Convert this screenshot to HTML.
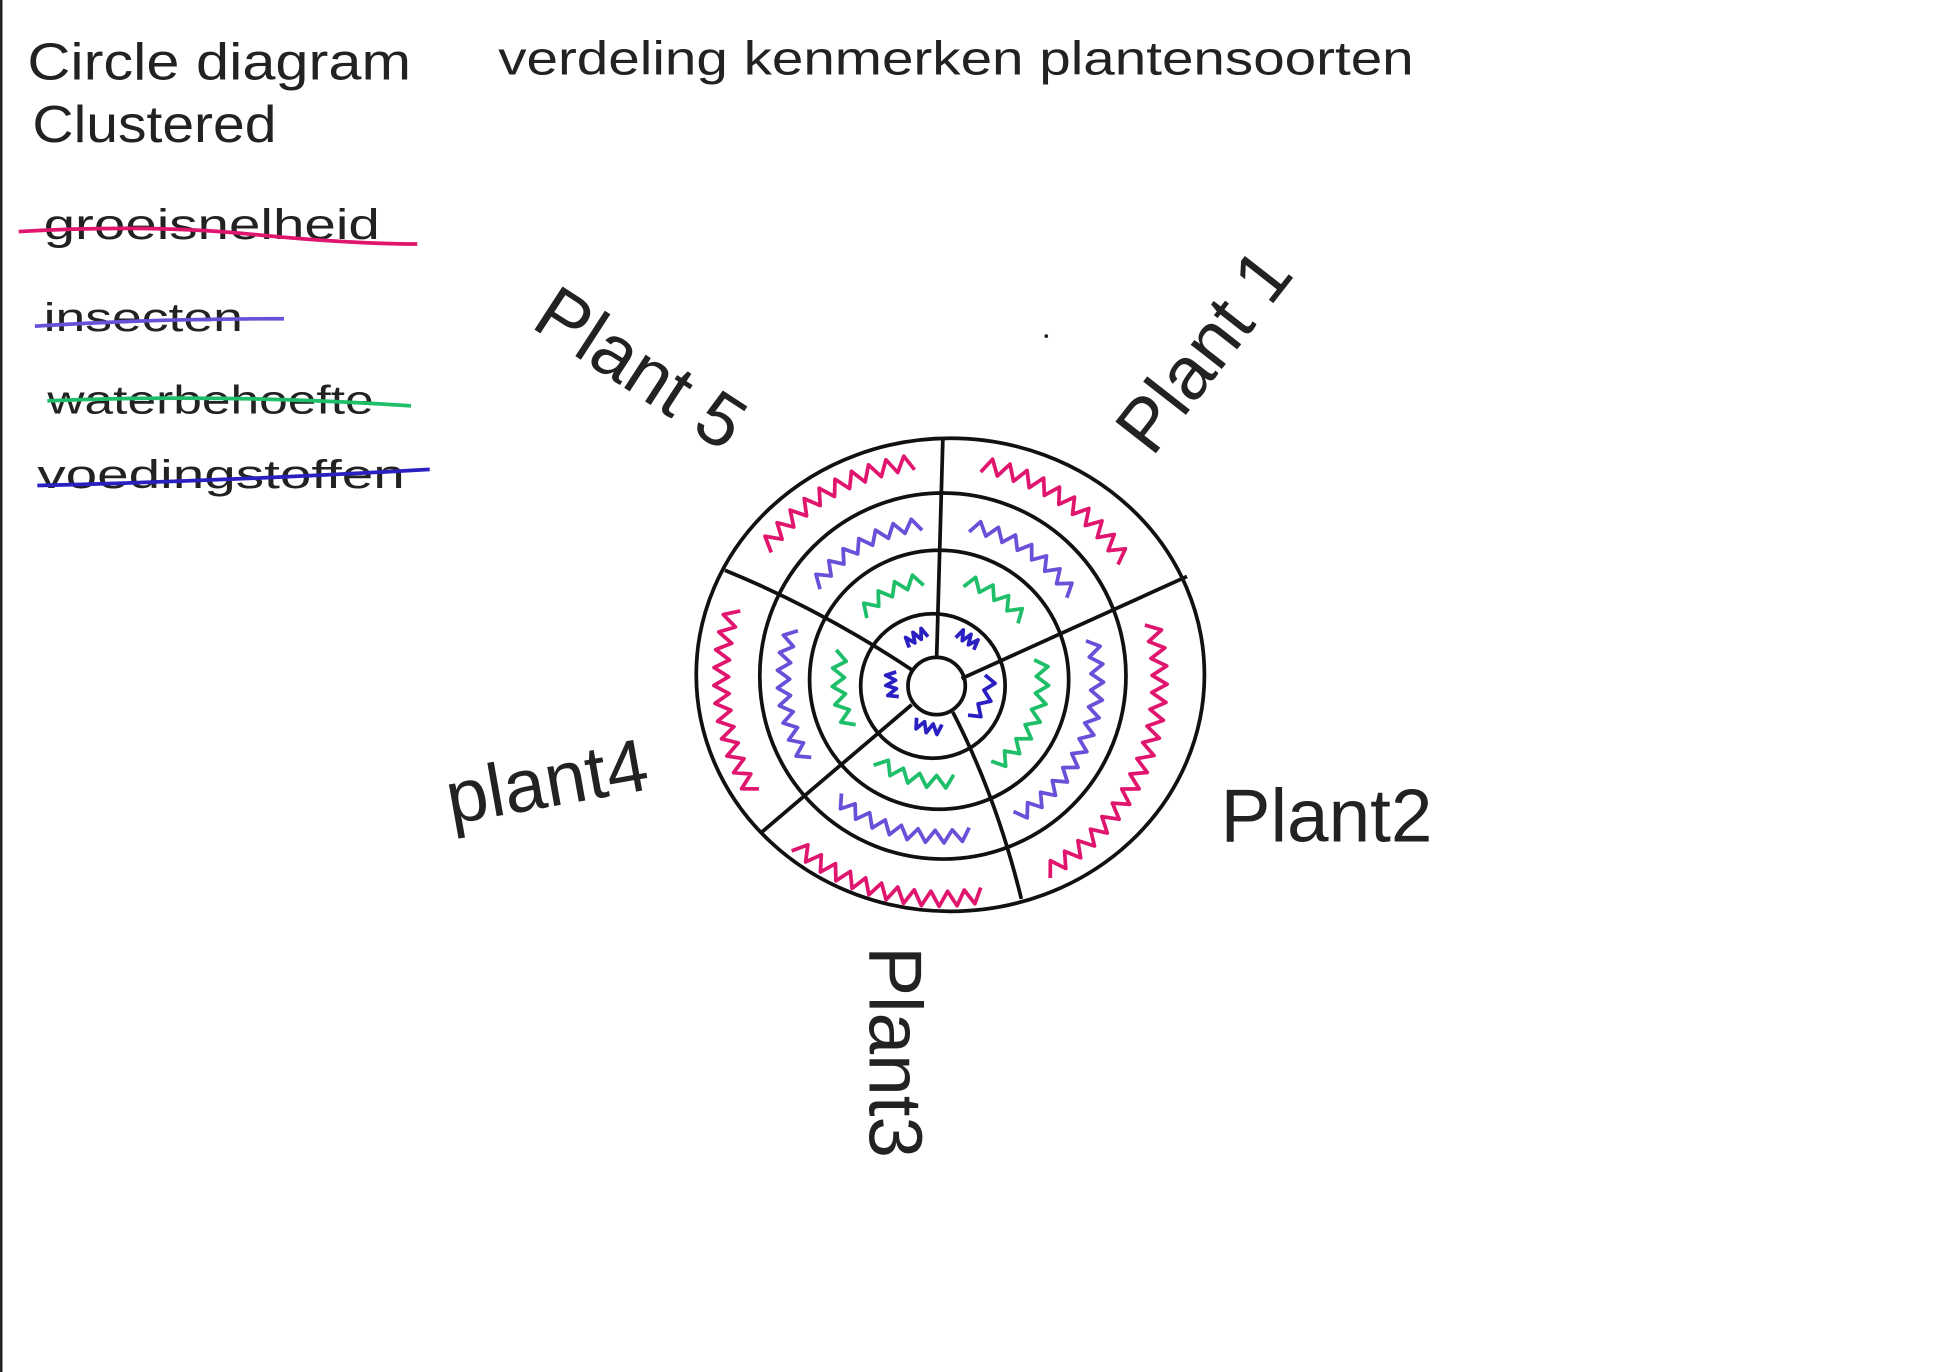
<!DOCTYPE html>
<html><head><meta charset="utf-8"><style>
html,body{margin:0;padding:0;background:#fff;width:1953px;height:1372px;overflow:hidden}
svg{display:block}
text{font-family:"Liberation Sans",sans-serif;fill:#222;font-weight:normal}
</style></head><body>
<svg id="s" width="1953" height="1372" viewBox="0 0 1568 1102" preserveAspectRatio="none" xmlns="http://www.w3.org/2000/svg">
<rect width="1568" height="1102" fill="#fff"/>
<line x1="1" y1="0" x2="1" y2="1102" stroke="#222" stroke-width="2"/>
<text x="22" y="64" font-size="42" textLength="308" lengthAdjust="spacingAndGlyphs">Circle diagram</text>
<text x="26" y="114" font-size="42" textLength="196" lengthAdjust="spacingAndGlyphs">Clustered</text>
<text x="400" y="60" font-size="38" textLength="735" lengthAdjust="spacingAndGlyphs">verdeling kenmerken plantensoorten</text>

<text x="35" y="192" font-size="34" textLength="270" lengthAdjust="spacingAndGlyphs">groeisnelheid</text>
<path d="M15 186 Q120 180 200 188 T335 196" stroke="#e0156e" stroke-width="3" fill="none"/>
<text x="35" y="266" font-size="32" textLength="160" lengthAdjust="spacingAndGlyphs">insecten</text>
<path d="M28 262 Q120 256 228 256" stroke="#6a4fd8" stroke-width="3" fill="none"/>
<text x="38" y="332" font-size="32" textLength="262" lengthAdjust="spacingAndGlyphs">waterbehoefte</text>
<path d="M38 322 Q180 316 330 326" stroke="#1fbf6a" stroke-width="3" fill="none"/>
<text x="30" y="392" font-size="32" textLength="295" lengthAdjust="spacingAndGlyphs">voedingstoffen</text>
<path d="M30 390 Q190 386 345 377" stroke="#2a1fc0" stroke-width="3" fill="none"/>

<text font-size="60" transform="translate(425,262) rotate(33)">Plant 5</text>
<text font-size="60" transform="translate(925,368) rotate(-52)">Plant 1</text>
<text font-size="60" x="980" y="676">Plant2</text>
<text font-size="60" transform="translate(362,662) rotate(-10)">plant4</text>
<text font-size="60" transform="translate(698,760) rotate(90)">Plant3</text>
<circle cx="840" cy="270" r="1.5" fill="#222"/>

<g stroke="#111" stroke-width="3" fill="none">
<ellipse cx="763" cy="542" rx="204" ry="190"/>
<circle cx="757" cy="543" r="147"/>
<circle cx="754" cy="546" r="104"/>
<circle cx="749" cy="551" r="58"/>
<circle cx="752" cy="551" r="23"/>
<path d="M752 528 L757 352"/>
<path d="M772 545 L953 463"/>
<path d="M765 572 Q800 640 820 722"/>
<path d="M732 566 L612 668"/>
<path d="M732 538 Q660 490 582 458"/>
</g>
<g id="sq" fill="none" stroke-width="3" stroke-linejoin="round"></g>
</svg>
<script>
var g=document.getElementById('sq');
var cx=755,cy=546;
var secs=[[-88,-24],[-24,70],[70,140],[140,208],[208,272]];
var rings=[[176,'#e0156e',6],[126,'#6a4fd8',5],[82,'#1fbf6a',5],[40,'#2a1fc0',4]];
rings.forEach(function(r){
  secs.forEach(function(s){
    var m=r[0]>100?9:(r[0]>60?12:18);
    var a0=(s[0]+m)*Math.PI/180,a1=(s[1]-m)*Math.PI/180;
    var len=(a1-a0)*r[0];var n=Math.max(6,Math.round(len/7));
    var d='';
    for(var i=0;i<=n;i++){
      var a=a0+(a1-a0)*i/n;var rr=r[0]+(i%2?r[2]:-r[2]);
      d+=(i?'L':'M')+(cx+rr*Math.cos(a)).toFixed(1)+' '+(cy+rr*Math.sin(a)).toFixed(1);
    }
    var p=document.createElementNS('http://www.w3.org/2000/svg','path');
    p.setAttribute('d',d);p.setAttribute('stroke',r[1]);g.appendChild(p);
  });
});
</script>
</body></html>
